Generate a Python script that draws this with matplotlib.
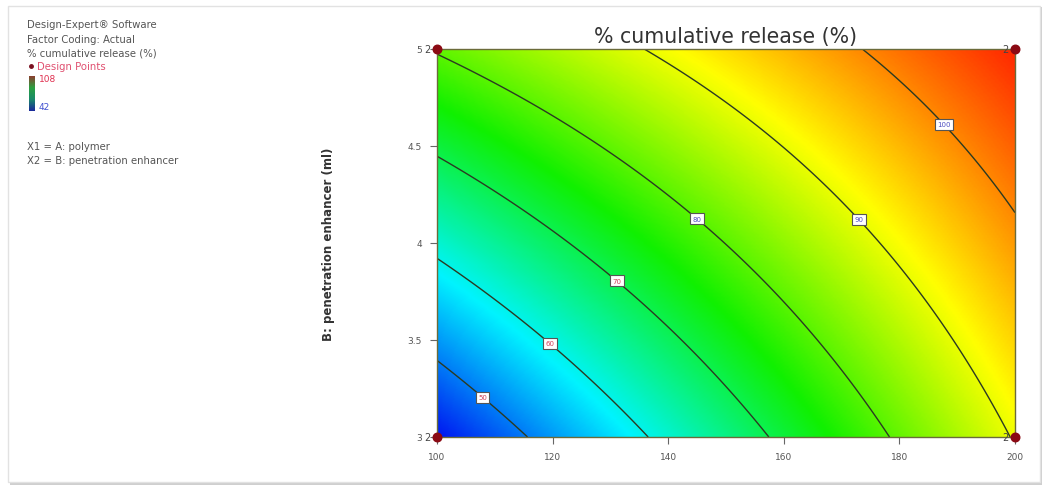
import matplotlib.pyplot as plt
import numpy as np
from matplotlib.colors import LinearSegmentedColormap
from matplotlib.patches import Rectangle

# модель поверхности отклика (кодированные факторы A, B в [-1, 1])
b0 = 80.1
b_a = 18.6
b_b = 13.65
b_ab = -5.35
b_aa = 0.0
b_bb = 0.0

a_range = [100, 200]  # A: polymer
b_range = [3, 5]  # B: penetration enhancer (ml)
levels = [50, 60, 70, 80, 90, 100]
resp_min, resp_max = 42, 108

design_x = [100, 200, 100, 200]
design_y = [3, 3, 5, 5]
design_reps = [2, 2, 2, 2]

x_ticks = [100, 120, 140, 160, 180, 200]
y_ticks = [3, 3.5, 4, 4.5, 5]
y_ticklabels = ['3', '3.5', '4', '4.5', '5']


def response(x, y):
    a = (x - 150) / 50
    b = y - 4
    return b0 + b_a * a + b_b * b + b_ab * a * b + b_aa * a ** 2 + b_bb * b ** 2


de_cmap = LinearSegmentedColormap.from_list(
    'de', ['#0010f0', '#00f4ff', '#10f000', '#ffff00', '#ff1a00'])

fig = plt.figure(figsize=(10.45, 4.89), dpi=100)

# рамка с тенью
fig.patches.append(Rectangle((10 / 1045, 3 / 489), 1032 / 1045, 478 / 489, transform=fig.transFigure,
                             fc='#cfcfcf', ec='none', zorder=-3))
fig.patches.append(Rectangle((8 / 1045, 6 / 489), 1032 / 1045, 476 / 489, transform=fig.transFigure,
                             fc='white', ec='#e2e2e2', lw=1, zorder=-2))

ax = fig.add_axes([437 / 1045, 1 - 438 / 489, 578 / 1045, 388 / 489])
xs = np.linspace(a_range[0], a_range[1], 300)
ys = np.linspace(b_range[0], b_range[1], 300)
X, Y = np.meshgrid(xs, ys)
Z = response(X, Y)
ax.imshow(Z, origin='lower', extent=[a_range[0], a_range[1], b_range[0], b_range[1]],
          aspect='auto', cmap=de_cmap, vmin=resp_min, vmax=resp_max, interpolation='bilinear')
cs = ax.contour(X, Y, Z, levels=levels, colors='#2b3a22', linewidths=1.0)
label_pos = [(108.6, 3.23), (120, 3.5), (131.8, 3.83), (146, 4.16), (174, 4.15), (188.7, 4.64)]
texts = ax.clabel(cs, fmt='%d', manual=label_pos, fontsize=5, inline=False)
for t in texts:
    t.set_rotation(0)
    val = float(t.get_text())
    t.set_color('#d0405a' if val < 75 else '#5050c0')
    t.set_bbox(dict(boxstyle='square,pad=0.35', fc='white', ec='#555555', lw=0.8))

ax.scatter(design_x, design_y, s=38, color='#8b0a14', zorder=5, clip_on=False)
for dx, dy, n in zip(design_x, design_y, design_reps):
    ax.annotate(str(n), (dx, dy), xytext=(-5, 0), textcoords='offset points',
                ha='right', va='center', fontsize=7, color='#444444', annotation_clip=False)

ax.set_xlim(a_range)
ax.set_ylim(b_range)
ax.set_xticks(x_ticks)
ax.set_yticks(y_ticks)
ax.set_yticklabels(y_ticklabels)
ax.tick_params(labelsize=6.5, length=5, width=0.8, color='#666666', labelcolor='#555555', pad=6)
for sp in ax.spines.values():
    sp.set_color('#6b6b3a')
    sp.set_linewidth(1.0)
ax.set_title('% cumulative release (%)', fontsize=14.8, color='#333333', pad=5)
ax.set_ylabel('B: penetration enhancer (ml)', fontsize=8.5, fontweight='bold', color='#333333', labelpad=52)

# левая панель с описанием
txt = dict(fontsize=7.3, color='#555555', transform=fig.transFigure, va='center', ha='left')
fig.text(27 / 1045, 1 - 25 / 489, 'Design-Expert® Software', **txt)
fig.text(27 / 1045, 1 - 40 / 489, 'Factor Coding: Actual', **txt)
fig.text(27 / 1045, 1 - 53 / 489, '% cumulative release (%)', **txt)
fig.text(37 / 1045, 1 - 67 / 489, 'Design Points', fontsize=7.3, color='#e05070',
         transform=fig.transFigure, va='center', ha='left')
fig.add_artist(plt.Line2D([31 / 1045], [1 - 67 / 489], marker='o', ms=2.5, color='#7a1020',
                          transform=fig.transFigure))
cax = fig.add_axes([29 / 1045, 1 - 112 / 489, 6 / 1045, 35 / 489])
cax.imshow(np.linspace(resp_max, resp_min, 50).reshape(-1, 1), aspect='auto', cmap=LinearSegmentedColormap.from_list(
    'leg', ['#1a2a9a', '#1a8a6a', '#2aa040', '#8a4030']), vmin=resp_min, vmax=resp_max)
cax.set_axis_off()
fig.text(39 / 1045, 1 - 80 / 489, str(resp_max), fontsize=6.5, color='#e03050',
         transform=fig.transFigure, va='center', ha='left')
fig.text(39 / 1045, 1 - 107 / 489, str(resp_min), fontsize=6.5, color='#4050d0',
         transform=fig.transFigure, va='center', ha='left')
fig.text(27 / 1045, 1 - 147 / 489, 'X1 = A: polymer', **txt)
fig.text(27 / 1045, 1 - 161 / 489, 'X2 = B: penetration enhancer', **txt)

fig.savefig('out.png', dpi=100)
